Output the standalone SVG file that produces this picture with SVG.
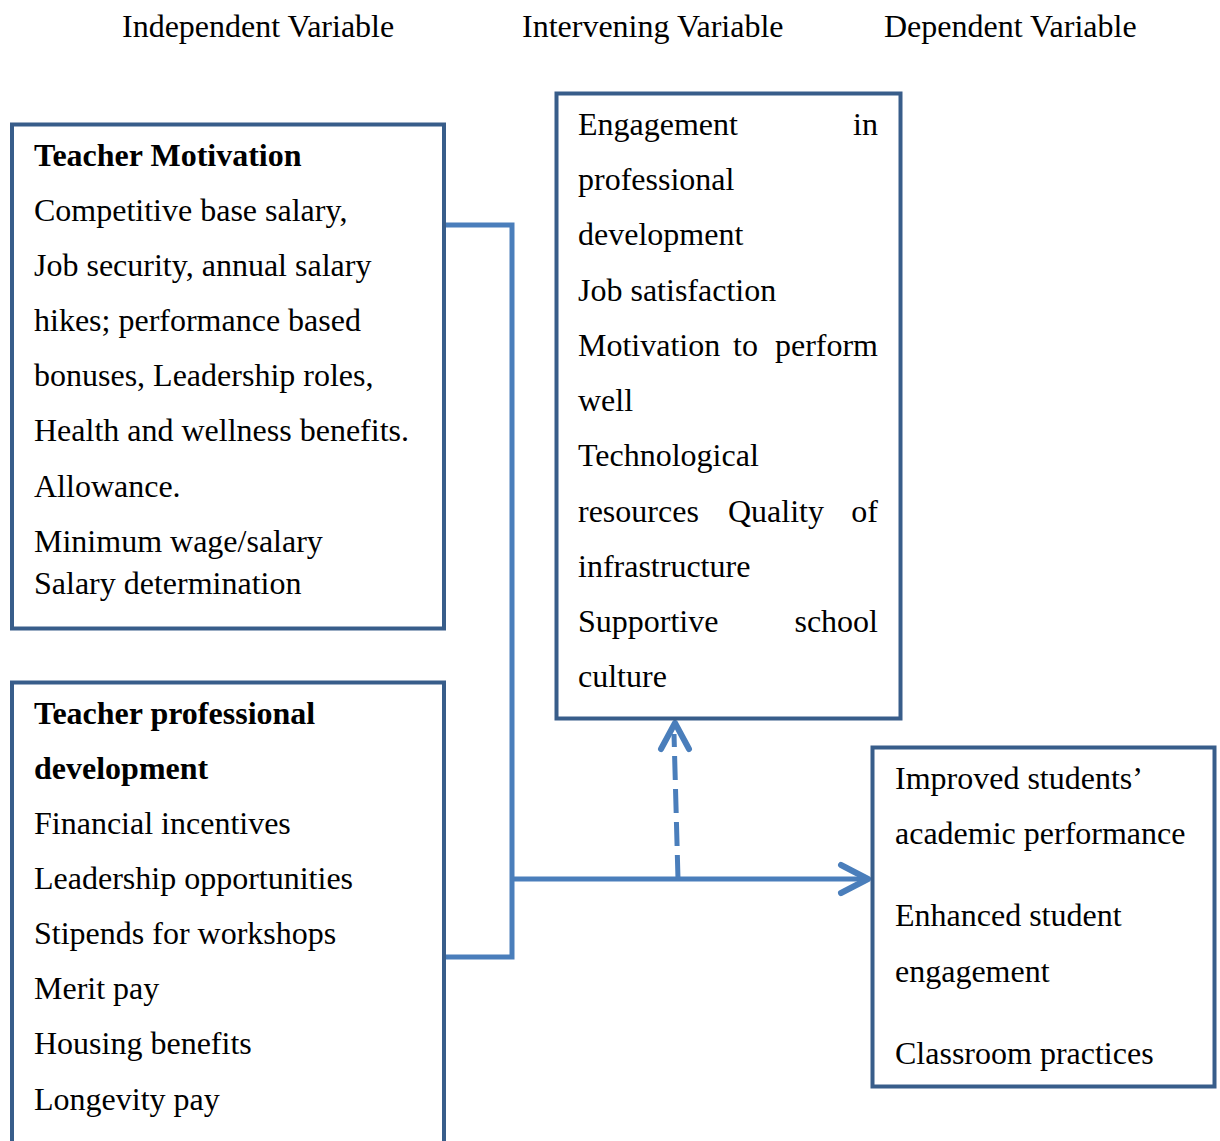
<svg xmlns="http://www.w3.org/2000/svg" width="1220" height="1141" viewBox="0 0 1220 1141">
<style>
text{font-family:"Liberation Serif","Times New Roman",serif;font-size:32px;fill:#000}
.b{font-weight:bold}
.box{fill:#fff;stroke:#385D8A;stroke-width:4}
.ln{fill:none;stroke:#4A7EBB;stroke-width:5}
.ah{fill:none;stroke:#4A7EBB;stroke-width:6;stroke-linecap:round;stroke-linejoin:round}
</style>
<g id="headers">
<text x="122" y="37">Independent Variable</text>
<text x="522" y="37">Intervening Variable</text>
<text x="884" y="37">Dependent Variable</text>
</g>
<g id="connectors">
<polyline class="ln" points="445,225 512,225 512,957 445,957"/>
<line class="ln" x1="512" y1="879" x2="866" y2="879"/>
<polyline class="ah" points="841,865 868,879 841,893"/>
<line class="ln" x1="678" y1="879" x2="674" y2="734" stroke-dasharray="24 9"/>
<polyline class="ah" points="661,749 675,723 689,749"/>
</g>
<g id="teacher-motivation">
<rect class="box" x="12" y="124.5" width="432" height="504"/>
<text class="b" x="34" y="166">Teacher Motivation</text>
<text x="34" y="221">Competitive base salary,</text>
<text x="34" y="276">Job security, annual salary</text>
<text x="34" y="331">hikes; performance based</text>
<text x="34" y="386">bonuses, Leadership roles,</text>
<text x="34" y="441">Health and wellness benefits.</text>
<text x="34" y="497">Allowance.</text>
<text x="34" y="552">Minimum wage/salary</text>
<text x="34" y="594">Salary determination</text>
</g>
<g id="teacher-professional-development">
<rect class="box" x="12" y="682.5" width="432" height="480"/>
<text class="b" x="34" y="724">Teacher professional</text>
<text class="b" x="34" y="779">development</text>
<text x="34" y="834">Financial incentives</text>
<text x="34" y="889">Leadership opportunities</text>
<text x="34" y="944">Stipends for workshops</text>
<text x="34" y="999">Merit pay</text>
<text x="34" y="1054">Housing benefits</text>
<text x="34" y="1110">Longevity pay</text>
</g>
<g id="intervening">
<rect class="box" x="556.5" y="93.5" width="344" height="625"/>
<text x="578" y="135">Engagement</text>
<text x="878" y="135" text-anchor="end">in</text>
<text x="578" y="190">professional</text>
<text x="578" y="245">development</text>
<text x="578" y="301">Job satisfaction</text>
<text x="578" y="356">Motivation</text>
<text x="733" y="356">to</text>
<text x="878" y="356" text-anchor="end">perform</text>
<text x="578" y="411">well</text>
<text x="578" y="466">Technological</text>
<text x="578" y="522">resources</text>
<text x="728" y="522">Quality</text>
<text x="878" y="522" text-anchor="end">of</text>
<text x="578" y="577">infrastructure</text>
<text x="578" y="632">Supportive</text>
<text x="878" y="632" text-anchor="end">school</text>
<text x="578" y="687">culture</text>
</g>
<g id="dependent">
<rect class="box" x="872.5" y="747.5" width="342" height="339"/>
<text x="895" y="789">Improved students’</text>
<text x="895" y="844">academic performance</text>
<text x="895" y="926">Enhanced student</text>
<text x="895" y="982">engagement</text>
<text x="895" y="1064">Classroom practices</text>
</g>
</svg>
